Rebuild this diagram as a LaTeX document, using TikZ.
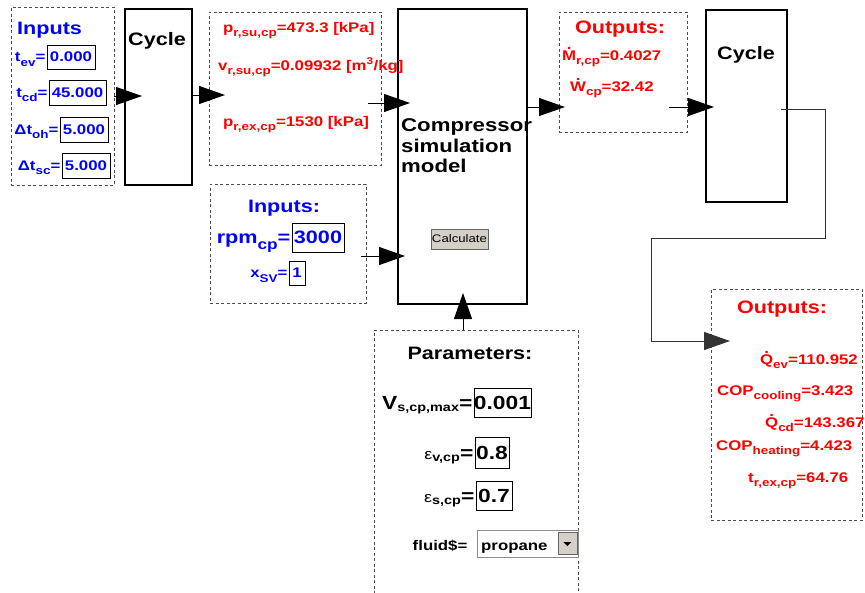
\documentclass[tikz,border=0pt]{standalone}
\usepackage{fontspec}
\setmainfont{Liberation Sans}[FakeStretch=1.2]
\usetikzlibrary{positioning,arrows.meta,calc,fit}
\definecolor{cBlue}{HTML}{0000FF}
\definecolor{cRed}{HTML}{FF0000}
\definecolor{cBtn}{HTML}{D4D0C8}
\newcommand{\setsz}[1]{\fontsize{#1}{#1}\selectfont}
\newcommand{\lo}[1]{\raisebox{-0.3em}{\scalebox{0.8}{#1}}}
\newcommand{\lop}[1]{\raisebox{-2pt}{\setsz{12}#1}}
\newcommand{\dt}[1]{{\ooalign{#1\cr\hidewidth\raisebox{0.72em}{.}\hidewidth\cr}}}

\begin{document}
\begin{tikzpicture}[x=1pt,y=-1pt,
  dbox/.style={draw=black!70,line width=0.9pt,dash pattern=on 3pt off 2.5pt,inner sep=0pt},
  cbox/.style={draw,line width=2pt,inner sep=0pt},
  val/.style={draw,line width=0.9pt,inner sep=0pt,font=\bfseries\setsz{14}},
  ar/.style={line width=1pt,-{Triangle[length=26pt,width=18pt]}},
  lbl/.style={inner sep=0pt,font=\bfseries\setsz{14}},
  head/.style={inner sep=0pt,font=\bfseries\setsz{18}},
  btn/.style={draw=black!60,fill=cBtn,line width=0.8pt,inner sep=0pt}]
\useasboundingbox (0,0) rectangle (865,592);
\fill[white] (0,0) rectangle (865,592);
\clip (0,0) rectangle (865,592);
% boxes
\node[dbox,fit={(11,7)(114,185)}] (inL) {};
\node[cbox,fit={(125,9)(192,185)}] (cyc1) {};
\node[dbox,fit={(209,12)(381,165)}] (state) {};
\node[cbox,fit={(398,9)(527,304)}] (comp) {};
\node[dbox,fit={(559,12)(687,132)}] (outA) {};
\node[cbox,fit={(706,10)(787,202)}] (cyc2) {};
\node[dbox,fit={(210,184)(366,303)}] (inR) {};
\node[dbox,fit={(374,330)(578,640)}] (par) {};
\node[dbox,fit={(711,289)(862,520)}] (outB) {};
% cycle inputs
\node[head,text=cBlue,anchor=base west] (inLt) at (17,34) {Inputs};
\node[val,text=cBlue,minimum width=48,minimum height=24] (tev) at (71,57) {0.000};
\node[val,text=cBlue,minimum width=57,minimum height=25] (tcd) at (77.5,92.5) {45.000};
\node[val,text=cBlue,minimum width=48,minimum height=25] (toh) at (84,129.5) {5.000};
\node[val,text=cBlue,minimum width=48,minimum height=25] (tsc) at (86,165.5) {5.000};
\node[lbl,text=cBlue,anchor=base east,xshift=-1] at (tev.base west) {t\lo{ev}=};
\node[lbl,text=cBlue,anchor=base east,xshift=-1] at (tcd.base west) {t\lo{cd}=};
\node[lbl,text=cBlue,anchor=base east,xshift=-1] at (toh.base west) {Δt\lo{oh}=};
\node[lbl,text=cBlue,anchor=base east,xshift=-1] at (tsc.base west) {Δt\lo{sc}=};
\node[head,anchor=base] (cyc1t) at (157,45) {Cycle};
% suction / exhaust state
\node[lbl,text=cRed,anchor=base west] (psu) at (223,32) {p\lo{r,su,cp}=473.3 [kPa]};
\node[lbl,text=cRed,anchor=base west] (vsu) at (218,70) {v\lo{r,su,cp}=0.09932 [m\textsuperscript{3}/kg]};
\node[lbl,text=cRed,anchor=base west] (pex) at (223,126) {p\lo{r,ex,cp}=1530 [kPa]};
% compressor
\node[head,font=\bfseries\setsz{18.5},anchor=base west] (cmp1) at (401,131) {Compressor};
\node[head,font=\bfseries\setsz{18.5},anchor=base west] (cmp2) at (401,152) {simulation};
\node[head,font=\bfseries\setsz{18.5},anchor=base west] (cmp3) at (401,172) {model};
\node[btn,minimum width=57,minimum height=20,font=\setsz{11}] (calc) at (459.5,239) {Calculate};
% compressor outputs
\node[head,text=cRed,anchor=base] (outAt) at (620,33) {Outputs:};
\node[lbl,text=cRed,anchor=base west] (mr) at (562,60) {\dt{M}\lo{r,cp}=0.4027};
\node[lbl,text=cRed,anchor=base west] (wcp) at (570,91) {\dt{W}\lo{cp}=32.42};
\node[head,anchor=base] (cyc2t) at (746,59) {Cycle};
% compressor inputs
\node[head,text=cBlue,anchor=base] (inRt) at (284,212) {Inputs:};
\node[val,text=cBlue,font=\bfseries\setsz{18},minimum width=52,minimum height=29] (rpm) at (318,237.5) {3000};
\node[val,text=cBlue,minimum width=16,minimum height=24] (xsv) at (297,273) {1};
\node[lbl,text=cBlue,font=\bfseries\setsz{18},anchor=base east,xshift=-1] at (rpm.base west) {rpm\lo{cp}=};
\node[lbl,text=cBlue,anchor=base east,xshift=-1] at (xsv.base west) {x\lo{SV}=};
% parameters
\node[head,anchor=base] (part) at (470,359) {Parameters:};
\node[val,font=\bfseries\setsz{19},minimum width=53,minimum height=29] (vs) at (502.5,402.5) {0.001};
\node[val,font=\bfseries\setsz{19},minimum width=34,minimum height=31] (ev) at (492,452.5) {0.8};
\node[val,font=\bfseries\setsz{19},minimum width=36,minimum height=29] (es) at (494,495.5) {0.7};
\node[lbl,font=\bfseries\setsz{19},anchor=base east,xshift=-1] at (vs.base west) {V\lop{s,cp,max}=};
\node[lbl,font=\bfseries\setsz{19},anchor=base east,xshift=-1] at (ev.base west) {{\mdseries\setsz{15}ε}\lop{v,cp}=};
\node[lbl,font=\bfseries\setsz{19},anchor=base east,xshift=-1] at (es.base west) {{\mdseries\setsz{15}ε}\lop{s,cp}=};
\node[draw=black!45,fill=white,line width=0.9pt,minimum width=101,minimum height=27] (fl) at (527.5,543.5) {};
\node[lbl,anchor=base west] (flt) at (481,550) {propane};
\node[lbl,anchor=base east] at ([xshift=-9]fl.west |- flt.base) {fluid\$=};
\node[btn,minimum width=19,minimum height=22] (dd) at ([xshift=-11]fl.east) {};
\fill ($(dd.center)+(-4,-1.5)$) -- ++(8,0) -- ++(-4,4) -- cycle;
% cycle outputs
\node[head,text=cRed,anchor=base] (outBt) at (782,313) {Outputs:};
\node[lbl,text=cRed,anchor=base east] (qev) at (858,364) {\dt{Q}\lo{ev}=110.952};
\node[lbl,text=cRed,anchor=base west] (copc) at (717,395) {COP\lo{cooling}=3.423};
\node[lbl,text=cRed,anchor=base west] (qcd) at (765,427) {\dt{Q}\lo{cd}=143.367};
\node[lbl,text=cRed,anchor=base west] (coph) at (716,450) {COP\lo{heating}=4.423};
\node[lbl,text=cRed,anchor=base west] (tex) at (748,482) {t\lo{r,ex,cp}=64.76};
% connectors
\coordinate (a1) at (142,96);
\coordinate (a2) at (225,95);
\coordinate (a3) at (410,103);
\coordinate (a4) at (565,107);
\coordinate (a5) at (714,107);
\coordinate (k1) at (825,109);
\coordinate (k2) at (651,238);
\coordinate (a6) at (730,341);
\coordinate (a7) at (405,256);
\coordinate (a8) at (463,293);
\draw[ar] (inL.east |- a1) -- (a1);
\draw[ar] (cyc1.east |- a2) -- (a2);
\draw[ar] ([xshift=-13]state.east |- a3) -- (a3);
\draw[ar] (comp.east |- a4) -- (a4);
\draw[ar] ([xshift=-18]outA.east |- a5) -- (a5);
\draw[ar,black!80] ([xshift=-7]cyc2.east |- k1) -- (k1) |- (k2) |- (a6);
\draw[ar] ([xshift=-5]inR.east |- a7) -- (a7);
\draw[ar] (a8 |- par.north) -- (a8);
\end{tikzpicture}
\end{document}
